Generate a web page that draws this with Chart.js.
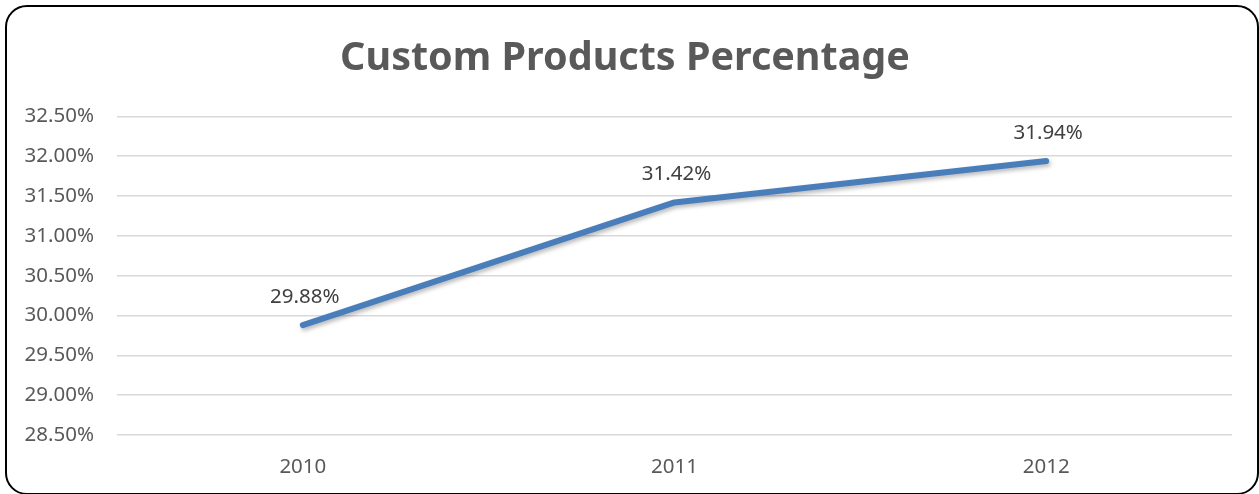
<!DOCTYPE html>
<html>
<head>
<meta charset="utf-8">
<script src="https://cdn.jsdelivr.net/npm/chart.js@4/dist/chart.umd.min.js"></script>
<style>
  html, body { margin: 0; padding: 0; background: #fff; }
  #wrap { position: relative; width: 1259px; height: 494px; overflow: hidden; }
  #frame {
    position: absolute; left: 5px; top: 5px; width: 1254px; height: 490px;
    border: 2px solid #000; border-radius: 22px; box-sizing: border-box; pointer-events: none;
  }
  canvas { position: absolute; left: 0; top: 0; }
</style>
</head>
<body>
<div id="wrap">
  <canvas id="c" width="1259" height="494"></canvas>
  <div id="frame"></div>
</div>
<script>
const years = ['2010', '2011', '2012'];
const customPct = [29.88, 31.42, 31.94];
const yMin = 28.5, yMax = 32.5, yStep = 0.5;

const FONT = '"Noto Sans", "Open Sans", sans-serif';

// Value labels above each point of the line
const pointLabels = {
  id: 'pointLabels',
  afterDatasetsDraw(chart) {
    const ctx = chart.ctx;
    const meta = chart.getDatasetMeta(0);
    ctx.save();
    ctx.font = '20.5px ' + FONT;
    ctx.fillStyle = '#404040';
    ctx.textAlign = 'center';
    ctx.textBaseline = 'middle';
    meta.data.forEach((pt, i) => {
      ctx.fillText(customPct[i].toFixed(2) + '%', pt.x + 2, pt.y - 28);
    });
    ctx.restore();
  }
};

// Soft drop shadow under the line
const lineShadow = {
  id: 'lineShadow',
  beforeDatasetDraw(chart) {
    const ctx = chart.ctx;
    ctx.save();
    ctx.shadowColor = 'rgba(0,0,0,0.28)';
    ctx.shadowBlur = 4;
    ctx.shadowOffsetX = 1.5;
    ctx.shadowOffsetY = 2.5;
  },
  afterDatasetDraw(chart) {
    chart.ctx.restore();
  }
};

new Chart(document.getElementById('c'), {
  type: 'line',
  data: {
    labels: years,
    datasets: [{
      data: customPct,
      borderColor: '#4a7ebb',
      borderWidth: 6,
      borderCapStyle: 'round',
      borderJoinStyle: 'round',
      pointRadius: 0,
      pointHoverRadius: 0,
      tension: 0,
      fill: false
    }]
  },
  options: {
    responsive: false,
    animation: false,
    events: [],
    layout: { padding: { left: 18, right: 27, top: 0, bottom: 0 } },
    plugins: {
      legend: { display: false },
      tooltip: { enabled: false },
      title: {
        display: true,
        text: 'Custom Products Percentage',
        color: '#595959',
        font: { family: FONT, size: 39.5, weight: 'bold', lineHeight: 1.2 },
        padding: { top: 35, bottom: 34 }
      }
    },
    scales: {
      x: {
        offset: true,
        grid: { display: false, drawTicks: false },
        border: { display: false },
        ticks: {
          color: '#595959',
          font: { family: FONT, size: 20.5 },
          padding: 20,
          maxRotation: 0
        },
        afterFit(scale) { scale.height = 59; }
      },
      y: {
        min: yMin,
        max: yMax,
        grid: { color: '#d9d9d9', lineWidth: 1.5, drawTicks: false },
        border: { display: false },
        ticks: {
          stepSize: yStep,
          color: '#595959',
          font: { family: FONT, size: 20.5 },
          padding: 23,
          callback: v => v.toFixed(2) + '%'
        },
        afterFit(scale) { scale.width = 99; }
      }
    }
  },
  plugins: [lineShadow, pointLabels]
});
</script>
</body>
</html>
